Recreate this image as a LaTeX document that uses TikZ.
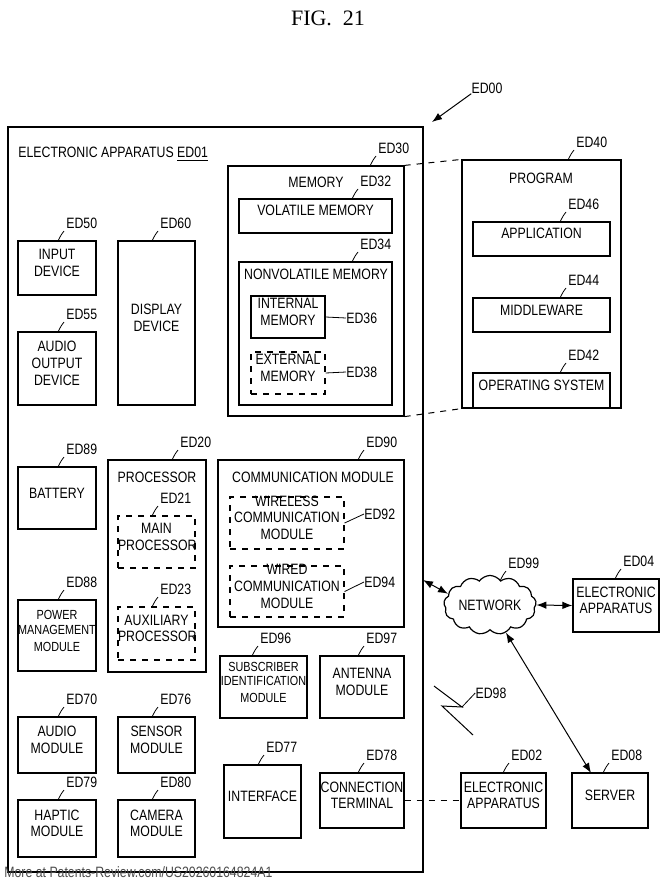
\documentclass[tikz,border=0pt]{standalone}
\usepackage{fontspec}
\setmainfont{Liberation Sans}[FakeStretch=0.82]
\newfontfamily\figfont{Liberation Serif}
\usetikzlibrary{fit,shapes.symbols,arrows.meta,calc}
\tikzset{
  box/.style={draw, line width=0.6pt, inner sep=0pt, align=center},
  dbox/.style={box, dashed},
  tag/.style={anchor=south west, inner sep=1pt},
  txt/.style={inner sep=0pt, align=center},
}
% leader line from a point to the label placed above right of it
\newcommand{\lead}[3]{%
  \node[tag] (#1) at ($(#3)+(6,-10)$) {#2};
  \draw[line width=0.4pt] (#3) .. controls ($(#3)+(3,-6)$) .. (#1.south west);
}
\newcommand{\sm}{\fontsize{6.6}{7.4}\selectfont}
\begin{document}
\begin{tikzpicture}[x=0.5pt, y=-0.5pt, font=\fontsize{7.5}{8.4}\selectfont]
\useasboundingbox (0,0) rectangle (671,888);
\node[txt, font=\figfont\fontsize{11}{12}\selectfont] (fig) at (328,18) {FIG.\ \ 21};
% outer apparatus
\node[box, fit={(8,127) (423,872)}] (ed01) {};
\node[txt, anchor=west] (ed01t) at (18,154) {ELECTRONIC APPARATUS \underline{ED01}};
\node[txt] (ed00) at (487,88) {ED00};
\draw[-{Latex[length=5pt]}, line width=0.5pt] (ed00.south west) -- (432,122);
% memory
\node[box, fit={(228,166) (404,416)}] (ed30) {};
\node[txt] (memt) at (316,182) {MEMORY};
\node[box, fit={(239,199) (392,233)}] (ed32) {VOLATILE MEMORY};
\node[box, fit={(239,262) (392,405)}] (ed34) {};
\node[txt] (nvmt) at (316,274) {NONVOLATILE MEMORY};
\node[box, fit={(251,296) (325,338)}] (ed36) {INTERNAL\\MEMORY};
\node[dbox, fit={(251,352) (325,394)}] (ed38) {EXTERNAL\\MEMORY};
\lead{l30}{ED30}{370,166}
\lead{l32}{ED32}{352,199}
\lead{l34}{ED34}{352,262}
\node[txt, anchor=west] (l36) at (346,318) {ED36};
\draw[line width=0.4pt] (ed36.east) -- (l36.west);
\node[txt, anchor=west] (l38) at (346,372) {ED38};
\draw[line width=0.4pt] (ed38.east) -- (l38.west);
% program
\node[box, fit={(462,160) (621,408)}] (ed40) {};
\node[txt] (progt) at (541,178) {PROGRAM};
\node[box, fit={(473,222) (610,256)}] (ed46) {APPLICATION};
\node[box, fit={(473,298) (610,332)}] (ed44) {MIDDLEWARE};
\node[box, fit={(473,373) (610,408)}] (ed42) {OPERATING SYSTEM};
\lead{l40}{ED40}{568,160}
\lead{l46}{ED46}{560,222}
\lead{l44}{ED44}{560,298}
\lead{l42}{ED42}{560,373}
\draw[dashed, line width=0.5pt] (ed30.north east) -- (ed40.north west);
\draw[dashed, line width=0.5pt] (ed30.south east) -- (ed40.south west);
% left column
\node[box, fit={(18,241) (96,295)}] (ed50) {INPUT\\DEVICE};
\node[box, fit={(118,241) (195,405)}] (ed60) {DISPLAY\\DEVICE};
\node[box, fit={(18,332) (96,405)}] (ed55) {AUDIO\\OUTPUT\\DEVICE};
\node[box, fit={(18,467) (96,529)}] (ed89) {BATTERY};
\node[box, fit={(18,600) (96,671)}] (ed88) {\sm POWER\\\sm MANAGEMENT\\\sm MODULE};
\node[box, fit={(18,717) (96,773)}] (ed70) {AUDIO\\MODULE};
\node[box, fit={(18,800) (96,857)}] (ed79) {HAPTIC\\MODULE};
\node[box, fit={(118,717) (195,773)}] (ed76) {SENSOR\\MODULE};
\node[box, fit={(118,800) (195,857)}] (ed80) {CAMERA\\MODULE};
\lead{l50}{ED50}{58,241}
\lead{l60}{ED60}{152,241}
\lead{l55}{ED55}{58,332}
\lead{l89}{ED89}{58,467}
\lead{l88}{ED88}{58,600}
\lead{l70}{ED70}{58,717}
\lead{l79}{ED79}{58,800}
\lead{l76}{ED76}{152,717}
\lead{l80}{ED80}{152,800}
% processor
\node[box, fit={(108,460) (206,672)}] (ed20) {};
\node[txt] (proct) at (157,477) {PROCESSOR};
\node[dbox, fit={(118,516) (195,568)}] (ed21) {MAIN\\PROCESSOR};
\node[dbox, fit={(118,607) (195,660)}] (ed23) {AUXILIARY\\PROCESSOR};
\lead{l20}{ED20}{172,460}
\lead{l21}{ED21}{152,516}
\lead{l23}{ED23}{152,607}
% communication
\node[box, fit={(218,460) (404,627)}] (ed90) {};
\node[txt] (commt) at (313,477) {COMMUNICATION MODULE};
\node[dbox, fit={(230,497) (344,549)}] (ed92) {WIRELESS\\COMMUNICATION\\MODULE};
\node[dbox, fit={(230,566) (344,617)}] (ed94) {WIRED\\COMMUNICATION\\MODULE};
\lead{l90}{ED90}{358,460}
\node[txt, anchor=west] (l92) at (364,514) {ED92};
\draw[line width=0.4pt] (ed92.east) -- (l92.west);
\node[txt, anchor=west] (l94) at (364,582) {ED94};
\draw[line width=0.4pt] (ed94.east) -- (l94.west);
\node[box, fit={(220,656) (307,718)}] (ed96) {\sm SUBSCRIBER\\\sm IDENTIFICATION\\\sm MODULE};
\node[box, fit={(320,656) (404,718)}] (ed97) {ANTENNA\\MODULE};
\lead{l96}{ED96}{252,656}
\lead{l97}{ED97}{358,656}
\node[box, fit={(224,765) (301,838)}] (ed77) {INTERFACE};
\node[box, fit={(320,773) (404,828)}] (ed78) {CONNECTION\\TERMINAL};
\lead{l77}{ED77}{258,765}
\lead{l78}{ED78}{358,773}
% outside
\node[cloud, draw, line width=0.6pt, cloud puffs=13, cloud puff arc=110, aspect=1.8, minimum width=44pt, minimum height=25pt, inner sep=0pt] (ed99) at (490,605) {NETWORK};
\lead{l99}{ED99}{500,581}
\node[box, fit={(573,579) (659,632)}] (ed04) {ELECTRONIC\\APPARATUS};
\lead{l04}{ED04}{615,579}
\node[box, fit={(461,773) (546,828)}] (ed02) {ELECTRONIC\\APPARATUS};
\lead{l02}{ED02}{503,773}
\node[box, fit={(572,773) (648,828)}] (ed08) {SERVER};
\lead{l08}{ED08}{603,773}
\coordinate (port) at (423,580);
\coordinate (srv) at (591,773);
\draw[{Latex[length=5pt]}-{Latex[length=5pt]}, line width=0.5pt] (port) -- (ed99.165);
\draw[{Latex[length=5pt]}-{Latex[length=5pt]}, line width=0.5pt] (ed99.east) -- (ed04.west);
\draw[{Latex[length=5pt]}-{Latex[length=5pt]}, line width=0.5pt] (ed99.-60) -- (srv);
\draw[dashed, line width=0.5pt] (ed78.east) -- (ed02.west);
% wireless bolt
\coordinate (b1) at (434,686);
\coordinate (b2) at (473,735);
\draw[line width=0.5pt] (b1) -- (462,707) -- (442,706) -- (b2);
\node[txt] (l98) at (491,693) {ED98};
\draw[line width=0.4pt] (462,707) .. controls (468,700) .. (l98.west);
\node[txt, anchor=west, text=black!70] (foot) at (4,872) {More at Patents-Review.com/US20260164824A1};
\end{tikzpicture}
\end{document}
